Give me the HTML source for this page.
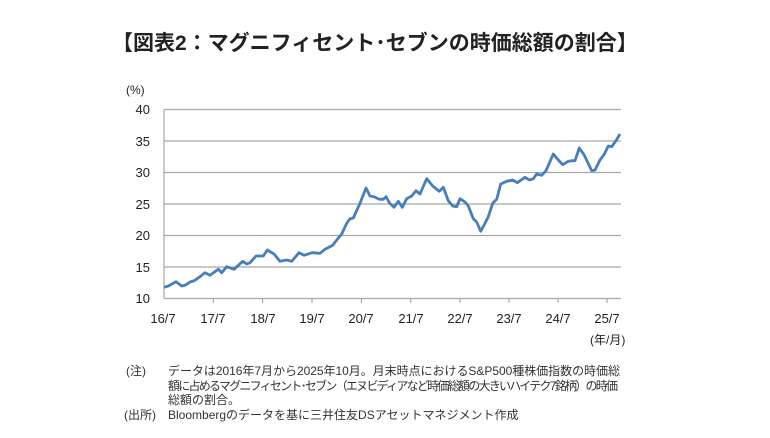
<!DOCTYPE html>
<html><head><meta charset="utf-8"><style>
body{margin:0;background:#fff;width:770px;height:433px;overflow:hidden}
</style></head><body>
<svg width="770" height="433" viewBox="0 0 770 433" xmlns="http://www.w3.org/2000/svg" font-family="'Liberation Sans','Noto Sans CJK JP',sans-serif">
<text x="112" y="50" font-size="21" font-weight="bold" fill="#222">【図表2：マグニフィセント･セブンの時価総額の割合】</text>
<text x="126" y="94" font-size="12" fill="#222">(%)</text>
<g stroke="#a6a6a6" stroke-width="1.2">
<line x1="164" y1="109.5" x2="621" y2="109.5"/>
<line x1="164" y1="141" x2="621" y2="141"/>
<line x1="164" y1="172.5" x2="621" y2="172.5"/>
<line x1="164" y1="204" x2="621" y2="204"/>
<line x1="164" y1="235.5" x2="621" y2="235.5"/>
<line x1="164" y1="267" x2="621" y2="267"/>
<line x1="164" y1="298.5" x2="621" y2="298.5"/>
<line x1="164" y1="109.5" x2="164" y2="298.5"/>
<line x1="213.3" y1="298.5" x2="213.3" y2="303"/><line x1="262.5" y1="298.5" x2="262.5" y2="303"/>
<line x1="312" y1="298.5" x2="312" y2="303"/><line x1="361.5" y1="298.5" x2="361.5" y2="303"/>
<line x1="410.7" y1="298.5" x2="410.7" y2="303"/><line x1="460" y1="298.5" x2="460" y2="303"/>
<line x1="509" y1="298.5" x2="509" y2="303"/><line x1="558" y1="298.5" x2="558" y2="303"/>
<line x1="607" y1="298.5" x2="607" y2="303"/>
</g>
<g font-size="13" fill="#222" text-anchor="end">
<text x="150" y="114">40</text><text x="150" y="146">35</text><text x="150" y="177">30</text>
<text x="150" y="209">25</text><text x="150" y="240">20</text><text x="150" y="272">15</text><text x="150" y="303">10</text>
</g>
<g font-size="13" fill="#222" text-anchor="middle">
<text x="163" y="323">16/7</text><text x="213" y="323">17/7</text><text x="263" y="323">18/7</text>
<text x="312" y="323">19/7</text><text x="361" y="323">20/7</text><text x="411" y="323">21/7</text>
<text x="460" y="323">22/7</text><text x="509" y="323">23/7</text><text x="558" y="323">24/7</text>
<text x="607" y="323">25/7</text>
</g>
<text x="590" y="344" font-size="12" fill="#222">(年/月)</text>
<polyline fill="none" stroke="#4a7ebb" stroke-width="2.8" stroke-linejoin="round" points="164,287.3 168.3,286 176,281.7 181.7,286 185,285.3 190,282 194.3,280.7 200,276.7 205,272.7 210,275.3 218.3,269.3 221.7,272.7 226.7,266.7 234,269.3 242.7,261.3 246.7,264 250,262.7 256,256 263.3,256 267.3,250 274,254 280,261.3 286.7,260 291.7,261.3 299,252.7 304,255.3 312.3,252.7 320,253.3 325,249.3 332.7,245.3 336.7,240 341.7,234 346.7,223.3 350,218.7 353.3,218 360,203.3 366,188 370,196 374,196.7 379.3,199.3 383.3,199.3 386,196.7 389.3,202.7 394,207.3 398.3,201.3 402.3,207.3 406.7,198.7 411.7,196 416,190.7 420,194 426.7,178.7 432.7,186 439.3,191.3 443.3,187.3 448.3,200.7 452.7,206 456.7,206.7 460,198.7 465,202 468.3,206 473.3,218.7 476.7,222 480.7,231.3 485,223.3 488.3,216.7 492.7,203.3 496.7,199.3 500.7,184 506.7,181.3 512.7,180 517.3,182.7 525,177.3 529.3,180 533.3,178.7 536.7,174 541.7,175.3 546,170.7 553.3,154 558.3,160 562.7,164.7 568.3,161.3 571.7,160.7 575,160.7 579.3,148 584,154.7 591.7,170.7 595,170 600,160 604,154.7 608.3,146 611.7,146.7 616,140.7 620,134"/>
<g font-size="12" fill="#333">
<text x="126" y="375">(注)</text>
<text x="168" y="375" textLength="452">データは2016年7月から2025年10月。月末時点におけるS&amp;P500種株価指数の時価総</text>
<text x="168" y="390" textLength="450">額に占めるマグニフィセント･セブン（エヌビディアなど時価総額の大きいハイテク7銘柄）の時価</text>
<text x="168" y="404">総額の割合。</text>
<text x="124" y="419">(出所)</text>
<text x="168" y="419">Bloombergのデータを基に三井住友DSアセットマネジメント作成</text>
</g>
</svg>
</body></html>
